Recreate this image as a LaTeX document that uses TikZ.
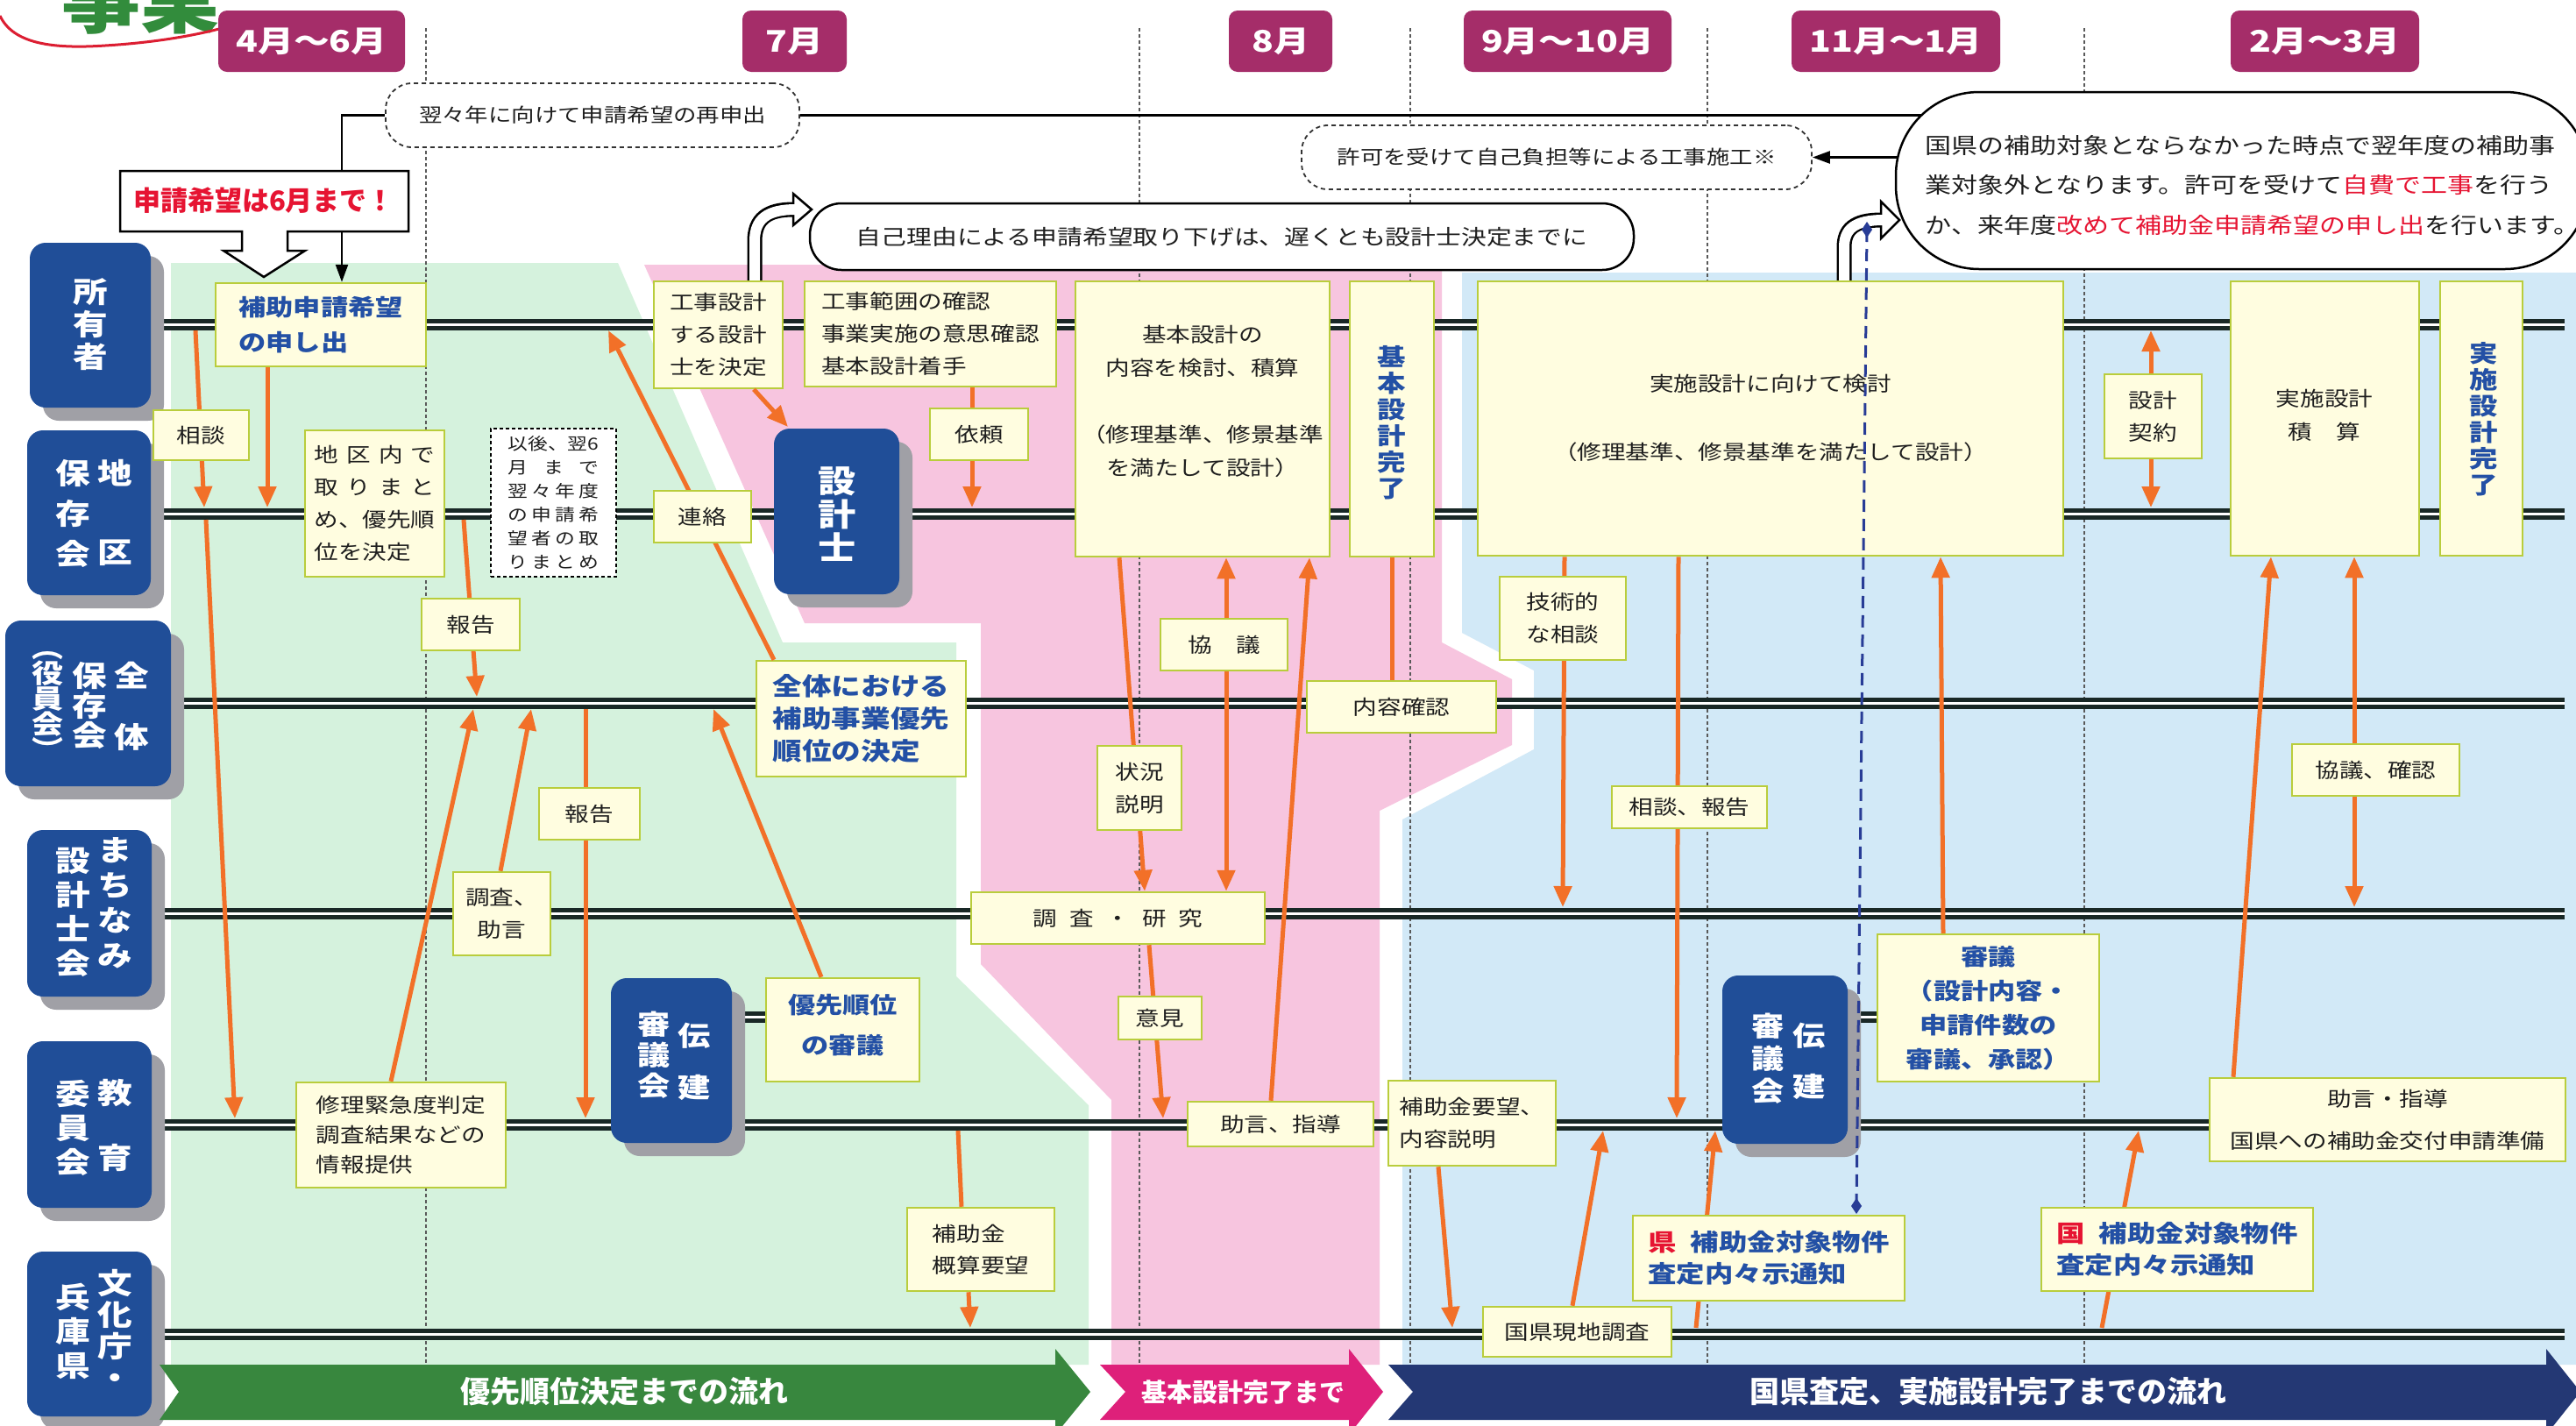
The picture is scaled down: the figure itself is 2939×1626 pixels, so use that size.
\documentclass[tikz,border=0pt]{standalone}
\usepackage{fontspec}
\setmainfont{Noto Sans CJK JP}[FakeStretch=1.2]
\newfontfamily\sqf{Noto Sans CJK JP}
\usetikzlibrary{arrows.meta,calc}
\definecolor{magbox}{RGB}{165,45,105}
\definecolor{lblue}{RGB}{32,78,152}
\definecolor{shad}{RGB}{160,160,166}
\definecolor{yfill}{RGB}{255,253,224}
\definecolor{yborder}{RGB}{185,205,60}
\definecolor{orng}{RGB}{242,112,40}
\definecolor{gbg}{RGB}{213,242,221}
\definecolor{pbg}{RGB}{247,197,223}
\definecolor{bbg}{RGB}{210,233,247}
\definecolor{chg}{RGB}{56,135,62}
\definecolor{chp}{RGB}{222,32,122}
\definecolor{chn}{RGB}{36,56,116}
\definecolor{lanec}{RGB}{25,40,38}
\definecolor{btext}{RGB}{35,80,165}
\definecolor{rtext}{RGB}{230,20,50}
\definecolor{navyd}{RGB}{40,60,150}
\definecolor{txt}{RGB}{30,30,30}
\definecolor{ttlgreen}{RGB}{50,140,60}
\definecolor{ttlred}{RGB}{220,30,50}
\newcommand\ft[2]{\fontsize{#1}{#2}\selectfont}
\tikzset{
 ybox/.style={draw=yborder, fill=yfill, line width=2.5pt, inner sep=0pt, text=txt, font=\ft{23}{37}},
 btxt/.style={text=btext, font=\bfseries\ft{26}{40}},
 lbl/.style={fill=lblue, rounded corners=18pt, inner sep=0pt},
 lane/.style={draw=lanec, double=white, double distance=3pt, line width=5pt},
 oarr/.style={draw=orng, line width=5pt, -{Triangle[length=24pt,width=20pt]}},
 oarrd/.style={draw=orng, line width=5pt, {Triangle[length=24pt,width=20pt]}-{Triangle[length=24pt,width=20pt]}},
 oline/.style={draw=orng, line width=5pt},
 wt/.style={text=white, align=center, font=\bfseries\ft{33}{37}, inner sep=0pt},
 mon/.style={fill=magbox, rounded corners=10pt, text=white, font=\bfseries\ft{34}{34}, inner sep=0pt},
 dbox/.style={draw=black!80, dash pattern=on 5pt off 4pt, fill=white, line width=1.8pt, rounded corners=30pt, font=\ft{22}{22}, text=txt, inner sep=0pt},
 thinl/.style={draw=black, line width=2.5pt},
 chtxt/.style={text=white, font=\sqf\bfseries\ft{34}{34}, inner sep=0pt},
 vblue/.style={text=btext, align=center, font=\bfseries\ft{27}{30}, inner sep=0pt}
}
\newcommand\ybx[7][]{\node[ybox,minimum width={#5-#3},minimum height={#6-#4},#1] (#2) at ({(#3+#5)/2},{(#4+#6)/2}) {#7};}
\newcommand\lbx[5]{\fill[shad,rounded corners=18pt] ({#2+15},{#3+15}) rectangle ({#4+15},{#5+15});
 \node[lbl,minimum width={#4-#2},minimum height={#5-#3}] (#1) at ({(#2+#4)/2},{(#3+#5)/2}) {};}
\newcommand\mbx[6]{\node[mon,minimum width={#4-#2},minimum height={#5-#3}] (#1) at ({(#2+#4)/2},{(#3+#5)/2}) {#6};}
\begin{document}
\begin{tikzpicture}[x=1pt,y=-1pt]
\useasboundingbox (0,0) rectangle (2939,1626);
\clip (0,0) rectangle (2939,1626);
\fill[white] (0,0) rectangle (2939,1626);
% title fragment
\node[font=\sqf\bfseries\ft{90}{90}, text=ttlgreen, anchor=south, inner sep=0pt] (ttl) at (160,40) {事業};
\draw[ttlred, line width=3pt] (0,18) .. controls (15,50) and (60,56) .. (120,52) .. controls (170,49) and (215,42) .. (250,33);
% backgrounds
\fill[gbg] (195,300) -- (705,300) -- (893,733) -- (1091,733) -- (1091,1114) -- (1242,1261) -- (1242,1557) -- (195,1557) -- cycle;
\fill[pbg] (735,302) -- (1645,302) -- (1645,733) -- (1725,775) -- (1725,850) -- (1574,925) -- (1574,1557) -- (1268,1557) -- (1268,1255) -- (1119,1100) -- (1119,711) -- (918,711) -- cycle;
\fill[bbg] (1668,311) -- (2939,311) -- (2939,1557) -- (1600,1557) -- (1600,935) -- (1750,855) -- (1750,765) -- (1668,722) -- cycle;
% month separators
\foreach \mx in {486,1300,1609,1948,2378} \draw[black!65, line width=1.5pt, dash pattern=on 4pt off 3pt] (\mx,32) -- (\mx,1557);
% months
\mbx{m1}{249}{12}{462}{82}{4月～6月}
\mbx{m2}{847}{12}{966}{82}{7月}
\mbx{m3}{1402}{12}{1520}{82}{8月}
\mbx{m4}{1670}{12}{1907}{82}{9月～10月}
\mbx{m5}{2044}{12}{2282}{82}{11月～1月}
\mbx{m6}{2545}{12}{2760}{82}{2月～3月}
% lane coordinates
\foreach \n/\ly in {1/370,2/586,3/802,4/1042,5/1283,6/1522}{
 \coordinate (L\n) at (0,\ly);
 \coordinate (L\n u) at (0,\ly-7);
 \coordinate (L\n d) at (0,\ly+7);}
% lanes
\draw[lane] (175,370) -- (2926,370);
\draw[lane] (175,586) -- (2926,586);
\draw[lane] (195,802) -- (2926,802);
\draw[lane] (175,1042) -- (2926,1042);
\draw[lane] (175,1283) -- (2926,1283);
\draw[lane] (175,1522) -- (2926,1522);
\draw[lane] (835,1160) -- (874,1160);
\draw[lane] (2108,1160) -- (2142,1160);
% label boxes
\lbx{own}{34}{277}{172}{465}
\lbx{chiku}{31}{491}{172}{679}
\lbx{zen}{6}{708}{195}{897}
\lbx{machi}{31}{947}{173}{1137}
\lbx{kyo}{31}{1188}{173}{1378}
\lbx{bun}{31}{1428}{173}{1616}
\node[wt] (own-t) at (103,370) {所\\有\\者};
\node[wt, font=\bfseries\ft{33}{46}] (chiku-t1) at (83,586) {保\\存\\会};
\node[wt] (chiku-t2) at (131,540) {地};
\node[wt] (chiku-t3) at (131,631) {区};
\node[wt] (zen-t1) at (150,770) {全};
\node[wt] (zen-t2) at (150,841) {体};
\node[wt, font=\bfseries\ft{33}{34}] (zen-t3) at (102,805) {保\\存\\会};
\node[wt, font=\bfseries\ft{30}{29}] (zen-t4) at (54,805) {︵\\役\\員\\会\\︶};
\node[wt, font=\bfseries\ft{33}{40}] (machi-t1) at (131,1030) {ま\\ち\\な\\み};
\node[wt, font=\bfseries\ft{33}{39}] (machi-t2) at (83,1041) {設\\計\\士\\会};
\node[wt] (kyo-t1) at (131,1247) {教};
\node[wt] (kyo-t2) at (131,1321) {育};
\node[wt, font=\bfseries\ft{33}{39}] (kyo-t3) at (83,1287) {委\\員\\会};
\node[wt, font=\bfseries\ft{33}{36}] (bun-t1) at (131,1516) {文\\化\\庁\\・};
\node[wt, font=\bfseries\ft{33}{39}] (bun-t2) at (83,1519) {兵\\庫\\県};
\lbx{sekkeishi}{883}{489}{1026}{678}
\node[wt, font=\bfseries\ft{36}{38}] (sekkeishi-t) at (955,587) {設\\計\\士};
\lbx{den1}{697}{1116}{835}{1304}
\node[wt, font=\bfseries\ft{31}{35}] (den1-t1) at (746,1204) {審\\議\\会};
\node[wt, font=\bfseries\ft{31}{35}] (den1-t2) at (792,1182) {伝};
\node[wt, font=\bfseries\ft{31}{35}] (den1-t3) at (792,1241) {建};
\lbx{den2}{1965}{1113}{2108}{1305}
\node[wt, font=\bfseries\ft{31}{37}] (den2-t1) at (2017,1208) {審\\議\\会};
\node[wt, font=\bfseries\ft{31}{35}] (den2-t2) at (2064,1182) {伝};
\node[wt, font=\bfseries\ft{31}{35}] (den2-t3) at (2064,1240) {建};
% yellow boxes under arrows
\ybx[align=left,btxt]{hojo}{246}{323}{486}{418}{補助申請希望\\の申し出}
\ybx[align=left]{koji}{746}{321}{893}{443}{工事設計\\する設計\\士を決定}
\ybx[align=left]{kojihan}{918}{321}{1205}{441}{工事範囲の確認\\事業実施の意思確認\\基本設計着手}
\ybx{kihon}{1227}{321}{1517}{635}{}
\ybx{kihonkan}{1540}{321}{1636}{635}{}
\ybx{jisshi}{1686}{321}{2354}{634}{}
\ybx{sekisan}{2545}{321}{2760}{634}{}
\ybx{jisshikan}{2784}{321}{2878}{634}{}
\ybx{shuri}{338}{1235}{577}{1355}{}
\ybx{chosa}{517}{995}{628}{1090}{}
\ybx{zentai}{863}{754}{1102}{886}{}
\ybx{yusen}{874}{1116}{1049}{1234}{}
\ybx{gaisan}{1035}{1378}{1203}{1473}{}
\ybx{chosaken}{1108}{1018}{1443}{1077}{}
\ybx{jogen1}{1355}{1257}{1567}{1308}{}
\ybx{naiyo}{1491}{777}{1707}{836}{}
\ybx{hojoyobo}{1584}{1233}{1775}{1330}{}
\ybx{genchi}{1692}{1491}{1907}{1548}{}
\ybx{shingi}{2142}{1066}{2395}{1234}{}
\ybx{jogen2}{2521}{1230}{2927}{1325}{}
% orange arrows
\draw[oarr] (223,0 |- L1d) -- (233,0 |- L2u);
\draw[oarr] (235,0 |- L2d) -- (268,0 |- L5u);
\draw[oarr] (hojo.south -| 305,0) -- (305,0 |- L2u);
\draw[oarr] (529,0 |- L2d) -- (544,0 |- L3u);
\draw[oarr] (shuri.north -| 446,0) -- (540,0 |- L3d);
\draw[oarr] (chosa.north -| 571,0) -- (606,0 |- L3d);
\draw[oarr] (668,0 |- L3d) -- (668,0 |- L5u);
\draw[oarr] (zentai.north -| 883,0) -- (694,0 |- L1d);
\draw[oarr] (yusen.north -| 937,0) -- (814,0 |- L3d);
\draw[oarr] (koji.south -| 860,0) -- (899,487);
\draw[oarr] (kojihan.south -| 1109,0) -- (1109,0 |- L2u);
\draw[oarr] (kihon.south -| 1277,0) -- (chosaken.north -| 1306,0);
\draw[oarrd] (kihon.south -| 1399,0) -- (chosaken.north -| 1399,0);
\draw[oarr] (jogen1.north -| 1450,0) -- (kihon.south -| 1494,0);
\draw[oline] (kihonkan.south) -- (naiyo.north -| 1588,0);
\draw[oarr] (chosaken.south -| 1311,0) -- (1327,0 |- L5u);
\draw[oline] (1093,0 |- L5d) -- (gaisan.north -| 1097,0);
\draw[oarr] (gaisan.south -| 1105,0) -- (1107,0 |- L6u);
\draw[oarr] (hojoyobo.south -| 1641,0) -- (1657,0 |- L6u);
\draw[oarr] (genchi.north -| 1794,0) -- (1829,0 |- L5d);
\draw[oarr] (1935,0 |- L6u) -- (1957,0 |- L5d);
\draw[oarr] (jisshi.south -| 1785,0) -- (1783,0 |- L4u);
\draw[oarr] (jisshi.south -| 1915,0) -- (1913,0 |- L5u);
\draw[oarr] (shingi.north -| 2217,0) -- (jisshi.south -| 2214,0);
\draw[oarrd] (2454,0 |- L1d) -- (2454,0 |- L2u);
\draw[oarr] (jogen2.north -| 2548,0) -- (sekisan.south -| 2591,0);
\draw[oarrd] (sekisan.south -| 2686,0) -- (2686,0 |- L4u);
\draw[oarr] (2398,0 |- L6u) -- (2440,0 |- L5d);
% box texts and small boxes (drawn over arrows)
\node[align=center, font=\ft{23}{38}, text=txt] (kihon-t) at (1372,458) {基本設計の\\内容を検討、積算\\[38pt]（修理基準、修景基準\\を満たして設計）};
\node[vblue] (kihonkan-t) at (1588,482) {基\\本\\設\\計\\完\\了};
\node[align=center, font=\ft{23}{39}, text=txt] (jisshi-t) at (2020,477) {実施設計に向けて検討\\[39pt]（修理基準、修景基準を満たして設計）};
\node[align=center, font=\ft{23}{38}, text=txt] (sekisan-t) at (2652,474) {実施設計\\積　算};
\node[vblue] (jisshikan-t) at (2834,478) {実\\施\\設\\計\\完\\了};
\ybx[align=center]{keiyaku}{2401}{427}{2512}{523}{設計\\契約}
\ybx{sodan}{175}{468}{284}{525}{相談}
\ybx[align=left]{chikunai}{348}{491}{507}{658}{\makebox[138pt][s]{地 区 内 で}\\\makebox[138pt][s]{取 り ま と}\\め、優先順\\位を決定}
\node[draw=black, dash pattern=on 4pt off 3pt, fill=white, line width=1.5pt, minimum width=143, minimum height=169, inner sep=0pt, align=left, font=\ft{19}{27}, text=txt] (igo) at (631.5,573.5) {以後、翌6\\\makebox[104pt][s]{月 ま で}\\\makebox[104pt][s]{翌 々 年 度}\\\makebox[104pt][s]{の 申 請 希}\\\makebox[104pt][s]{望 者 の 取}\\\makebox[104pt][s]{り ま と め}};
\ybx{renraku}{746}{560}{857}{619}{連絡}
\ybx{hokoku1}{481}{683}{593}{742}{報告}
\node[align=left, text=btext, font=\bfseries\ft{28}{37}] (zentai-t) at (982.5,820) {全体における\\補助事業優先\\順位の決定};
\node[align=center, font=\ft{23}{37}, text=txt] (chosa-t) at (572.5,1042.5) {調査、\\助言};
\ybx{hokoku2}{615}{899}{730}{958}{報告}
\node[align=left, font=\ft{23}{34}, text=txt] (shuri-t) at (457.5,1295) {修理緊急度判定\\調査結果などの\\情報提供};
\node[align=center, text=btext, font=\bfseries\ft{26}{46}] (yusen-t) at (961.5,1170) {優先順位\\の審議};
\node[align=left, font=\ft{23}{36}, text=txt] (gaisan-t) at (1119,1425.5) {補助金\\概算要望};
\ybx{irai}{1061}{466}{1173}{525}{依頼}
\ybx[align=center]{jokyo}{1252}{851}{1348}{947}{状況\\説明}
\ybx{kyogi}{1324}{706}{1469}{765}{協　議}
\node[font=\ft{23}{37}, text=txt] (naiyo-t) at (1599,806.5) {内容確認};
\node[font=\ft{23}{37}, text=txt] (chosaken-t) at (1275.5,1047.5) {調\hspace{14pt}査\hspace{14pt}・\hspace{14pt}研\hspace{14pt}究};
\ybx{iken}{1276}{1137}{1371}{1186}{意見}
\node[font=\ft{23}{37}, text=txt] (jogen1-t) at (1461,1282.5) {助言、指導};
\node[align=left, font=\ft{23}{37}, text=txt] (hojoyobo-t) at (1679.5,1281.5) {補助金要望、\\内容説明};
\node[font=\ft{23}{37}, text=txt] (genchi-t) at (1799.5,1519.5) {国県現地調査};
\ybx[align=left]{gijutsu}{1711}{658}{1855}{753}{技術的\\な相談}
\ybx{sodanhok}{1839}{897}{2016}{945}{相談、報告}
\node[align=center, text=btext, font=\bfseries\ft{26}{39}] (shingi-t) at (2268.5,1150) {審議\\（設計内容・\\申請件数の\\審議、承認）};
\ybx[align=left,btxt,font=\bfseries\ft{27}{36}]{ken}{1863}{1387}{2173}{1484}{\textcolor{rtext}{県}\hspace{16pt}補助金対象物件\\査定内々示通知}
\ybx[align=left,btxt,font=\bfseries\ft{27}{36}]{kuni}{2329}{1378}{2639}{1473}{\textcolor{rtext}{国}\hspace{16pt}補助金対象物件\\査定内々示通知}
\node[align=center, font=\ft{23}{48}, text=txt] (jogen2-t) at (2724,1277.5) {助言・指導\\国県への補助金交付申請準備};
\ybx{kyogikak}{2615}{849}{2806}{908}{協議、確認}
% hollow bent arrows
\draw[line width=17pt, black] (koji.north -| 861,0) -- (861,275) .. controls (861,250) and (875,239) .. (905,239);
\filldraw[fill=white, draw=black, line width=2.5pt] (905,221) -- (926,239) -- (905,257) -- cycle;
\draw[line width=12pt, white] (koji.north -| 861,0) -- (861,275) .. controls (861,250) and (875,239) .. (908,239);
\draw[line width=17pt, black] (jisshi.north -| 2104,0) -- (2104,282) .. controls (2104,262) and (2115,251) .. (2146,251);
\filldraw[fill=white, draw=black, line width=2.5pt] (2146,230) -- (2167,251) -- (2146,272) -- cycle;
\draw[line width=12pt, white] (jisshi.north -| 2104,0) -- (2104,282) .. controls (2104,262) and (2115,251) .. (2149,251);
% blue dashed line
\coordinate (dtop) at (2130,262);
\coordinate (dbot) at (2118,1376);
\draw[navyd, line width=3pt, dash pattern=on 14pt off 8pt] (dtop) -- (dbot);
\fill[navyd] (dtop) ++(0,-9) -- ++(6,9) -- ++(-6,9) -- ++(-6,-9) -- cycle;
\fill[navyd] (dbot) ++(0,-9) -- ++(6,9) -- ++(-6,9) -- ++(-6,-9) -- cycle;
% top callouts
\node[dbox, minimum width=472, minimum height=73] (yoku) at (676,131.5) {翌々年に向けて申請希望の再申出};
\node[dbox, minimum width=582, minimum height=73] (kyoka) at (1776,179.5) {許可を受けて自己負担等による工事施工※};
\draw[thinl, -{Triangle[length=20pt,width=14pt]}] (yoku.west) -- (390,0 |- yoku.west) -- (hojo.north -| 390,0);
\draw[thinl] (yoku.east) -- (2200,0 |- yoku.east);
\filldraw[fill=white, draw=black, line width=2.5pt] (137,195) -- (466,195) -- (466,264) -- (328,264) -- (328,286) -- (348,286) -- (301,316) -- (255,286) -- (276,286) -- (276,264) -- (137,264) -- cycle;
\node[font=\sqf\bfseries\ft{31}{31}, text=rtext, inner sep=0pt] (deadline) at (301,229) {申請希望は6月まで！};
\node[draw=black, fill=white, line width=2.5pt, rounded corners=36pt, minimum width=940, minimum height=76, inner sep=0pt, font=\ft{24}{24}, text=txt] (jiko) at (1394,270) {自己理由による申請希望取り下げは、遅くとも設計士決定までに};
\node[draw=black, fill=white, line width=2.5pt, rounded corners=95pt, minimum width=790, minimum height=202, inner sep=0pt] (bubble) at (2558,206) {};
\node[align=left, font=\ft{25}{45.5}, text=txt, inner sep=0pt] (bubble-t) at (2570,211) {国県の補助対象とならなかった時点で翌年度の補助事\\業対象外となります。許可を受けて\textcolor{rtext}{自費で工事}を行う\\か、来年度\textcolor{rtext}{改めて補助金申請希望の申し出}を行います。};
\draw[thinl, -{Triangle[length=20pt,width=14pt]}] (bubble.west |- kyoka.east) ++(3,0) -- (kyoka.east);
% chevrons
\fill[chg] (182,1557) -- (1204,1557) -- (1204,1539) -- (1244,1588) -- (1204,1637) -- (1204,1620) -- (182,1620) -- (204,1588) -- cycle;
\fill[chp] (1255,1557) -- (1539,1557) -- (1539,1539) -- (1578,1588) -- (1539,1637) -- (1539,1620) -- (1255,1620) -- (1284,1588) -- cycle;
\fill[chn] (1584,1557) -- (2905,1557) -- (2905,1539) -- (2944,1588) -- (2905,1637) -- (2905,1620) -- (1584,1620) -- (1612,1588) -- cycle;
\node[chtxt] (cg-t) at (712,1588) {優先順位決定までの流れ};
\node[chtxt, font=\sqf\bfseries\ft{29}{29}] (cp-t) at (1418,1588) {基本設計完了まで};
\node[chtxt] (cn-t) at (2268,1588) {国県査定、実施設計完了までの流れ};
\end{tikzpicture}
\end{document}
